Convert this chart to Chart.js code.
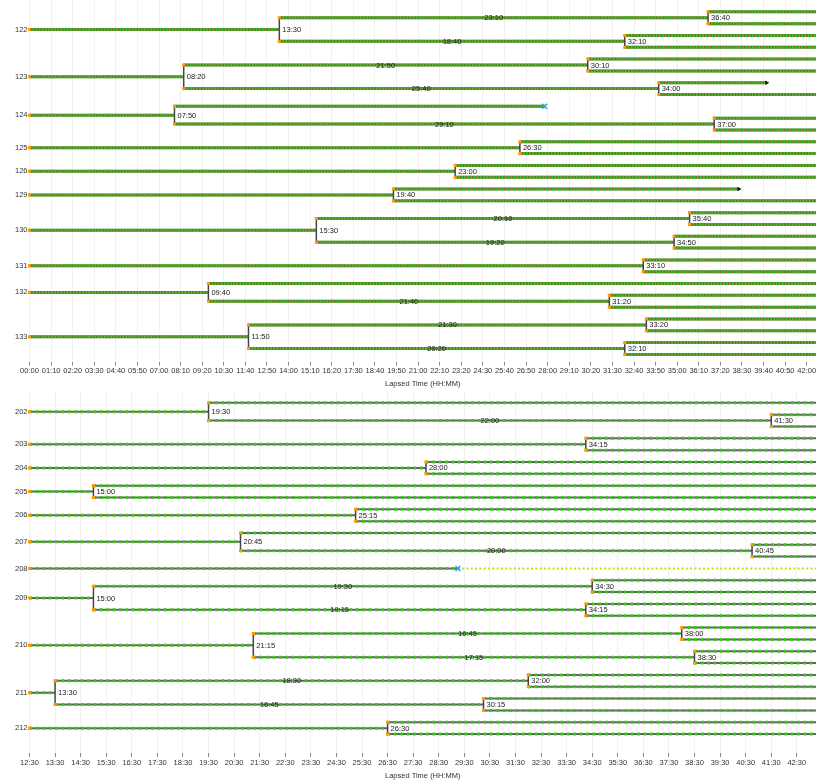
<!DOCTYPE html>
<html><head><meta charset="utf-8">
<script src="https://cdn.jsdelivr.net/npm/chart.js@4.4.1/dist/chart.umd.min.js"></script>
<style>
html,body{margin:0;padding:0;background:#fff;}
#wrap{position:relative;width:833px;height:783px;overflow:hidden;background:#fff;}
canvas{position:absolute;left:0;}
</style></head><body>
<div id="wrap">
<canvas id="topChart" width="833" height="391" style="top:0"></canvas>
<canvas id="botChart" width="833" height="392" style="top:391px"></canvas>
</div>
<script>
// ================= DATA =================
// Tree node: ['HH:MM' division time, upperChild, lowerChild]
// Leaf: 'end' (tracked to end), 'die HH:MM' (cell death), 'lost HH:MM' (tracking ends, arrow),
//       'dieTrail HH:MM' (death, dotted trace continues)
const TOP_LINEAGES = ['122','123','124','125','126','129','130','131','132','133'];
const TOP_TREES = [
  ['13:30', ['36:40','end','end'], ['32:10','end','end']],
  ['08:20', ['30:10','end','end'], ['34:00','lost 39:50','end']],
  ['07:50', 'die 27:50', ['37:00','end','end']],
  ['26:30', 'end', 'end'],
  ['23:00', 'end', 'end'],
  ['19:40', 'lost 38:20', 'end'],
  ['15:30', ['35:40','end','end'], ['34:50','end','end']],
  ['33:10', 'end', 'end'],
  ['09:40', 'end', ['31:20','end','end']],
  ['11:50', ['33:20','end','end'], ['32:10','end','end']]
];
const TOP_RANGE = ['00:00', '42:30'];
const TOP_TICKS = ['00:00','01:10','02:20','03:30','04:40','05:50','07:00','08:10','09:20','10:30',
  '11:40','12:50','14:00','15:10','16:20','17:30','18:40','19:50','21:00','22:10','23:20','24:30',
  '25:40','26:50','28:00','29:10','30:20','31:30','32:40','33:50','35:00','36:10','37:20','38:30',
  '39:40','40:50','42:00'];

const BOTTOM_LINEAGES = ['202','203','204','205','206','207','208','209','210','211','212'];
const BOTTOM_TREES = [
  ['19:30', 'end', ['41:30','end','end']],
  ['34:15', 'end', 'end'],
  ['28:00', 'end', 'end'],
  ['15:00', 'end', 'end'],
  ['25:15', 'end', 'end'],
  ['20:45', 'end', ['40:45','end','end']],
  'dieTrail 29:15',
  ['15:00', ['34:30','end','end'], ['34:15','end','end']],
  ['21:15', ['38:00','end','end'], ['38:30','end','end']],
  ['13:30', ['32:00','end','end'], ['30:15','end','end']],
  ['26:30', 'end', 'end']
];
const BOTTOM_RANGE = ['12:30', '43:15'];
const BOTTOM_TICKS = ['12:30','13:30','14:30','15:30','16:30','17:30','18:30','19:30','20:30','21:30',
  '22:30','23:30','24:30','25:30','26:30','27:30','28:30','29:30','30:30','31:30','32:30','33:30',
  '34:30','35:30','36:30','37:30','38:30','39:30','40:30','41:30','42:30'];

const AXIS_TITLE = 'Lapsed Time (HH:MM)';

// ================= HELPERS =================
const FONT_FAMILY = "'Liberation Sans',Arial,sans-serif";
const FONT_SIZE = 7.5;
function toMin(s){ const p = s.split(':').map(Number); return p[0]*60 + p[1]; }
function fmt(v){ const h = Math.floor(v/60), m = Math.round(v - h*60);
  return String(h).padStart(2,'0') + ':' + String(m).padStart(2,'0'); }

function layout(lineages, trees, range){
  const start = toMin(range[0]), end = toMin(range[1]);
  let row = 0;
  const out = {segs:[], verts:[], starts:[], deaths:[], arrows:[], trails:[], labels:[], roots:[]};
  function place(node, t0, isRoot){
    if (typeof node === 'string'){
      const y = row++;
      let t1 = end;
      const parts = node.split(' ');
      if (parts[0] === 'die'){ t1 = toMin(parts[1]); out.deaths.push({x:t1, y}); }
      else if (parts[0] === 'lost'){ t1 = toMin(parts[1]); out.arrows.push({x:t1, y}); }
      else if (parts[0] === 'dieTrail'){ t1 = toMin(parts[1]); out.deaths.push({x:t1, y}); out.trails.push([t1, end, y]); }
      out.segs.push([t0, t1, y]);
      out.starts.push({x:t0, y});
      return y;
    }
    const td = toMin(node[0]);
    const ya = place(node[1], td, false);
    const yb = place(node[2], td, false);
    const y = (ya + yb) / 2;
    out.segs.push([t0, td, y]);
    out.starts.push({x:t0, y});
    out.verts.push([td, ya, yb]);
    out.labels.push({x:td, y, text:node[0], align:'left'});
    if (!isRoot) out.labels.push({x:(t0+td)/2, y, text:fmt(td - t0), align:'center'});
    return y;
  }
  lineages.forEach((name, i) => { const y = place(trees[i], start, true); out.roots.push({y, name}); });
  out.start = start; out.end = end;
  return out;
}

function hLines(segs){
  const d = [];
  segs.forEach(s => { d.push({x:s[0], y:s[2]}, {x:s[1], y:s[2]}, {x:s[1], y:null}); });
  return d;
}
function vLines(verts){
  const d = [];
  verts.forEach(v => { d.push({x:v[0], y:v[1]}, {x:v[0], y:v[2]}, {x:v[0], y:null}); });
  return d;
}

function makeChart(canvasId, lineages, trees, range, ticks, style){
  const L = layout(lineages, trees, range);
  const tickVals = ticks.map(toMin);
  const lineDs = (data, color, width, dash, order) => ({
    type:'scatter', data, showLine:true, spanGaps:false, borderColor:color, borderWidth:width,
    borderDash:dash || [], borderCapStyle:'butt', pointRadius:0, pointHoverRadius:0, order, clip:8
  });
  const datasets = [
    {data:L.starts, showLine:false, pointStyle:'rect', pointRadius:2.2, backgroundColor:'#ff9a00', borderColor:'#ff9a00', borderWidth:0, order:0, clip:8},
    {data:L.deaths, showLine:false, pointStyle:'crossRot', pointRadius:3.5, borderColor:'#2fa8e8', borderWidth:1.6, order:0, clip:8},
    {data:L.arrows, showLine:false, pointStyle:'triangle', rotation:90, pointRadius:2.6, backgroundColor:'#111', borderColor:'#111', borderWidth:0, order:0, clip:8},
    lineDs(vLines(L.verts), '#454545', 1.5, null, 2),
    lineDs(hLines(L.segs), style.green, style.greenW, style.dash, 3),
    lineDs(hLines(L.segs), style.base, style.baseW, null, 4),
    lineDs(hLines(L.trails), '#d6d600', 2, [2, 2.3], 3),
  ];
  const labelPlugin = {
    id:'cellLabels',
    afterDatasetsDraw(chart){
      const {ctx, scales} = chart;
      ctx.save();
      ctx.font = FONT_SIZE + 'px ' + FONT_FAMILY;
      ctx.fillStyle = '#222';
      ctx.textBaseline = 'middle';
      L.labels.forEach(l => {
        ctx.textAlign = l.align;
        const px = scales.x.getPixelForValue(l.x) + (l.align === 'left' ? 3 : 0);
        ctx.fillText(l.text, px, scales.y.getPixelForValue(l.y) + 0.5);
      });
      ctx.restore();
    }
  };
  return new Chart(document.getElementById(canvasId), {
    type:'scatter',
    data:{datasets},
    plugins:[labelPlugin],
    options:{
      responsive:false, animation:false, devicePixelRatio:1, events:[],
      layout:{autoPadding:false, padding:{top:0, right:17, left:0, bottom:0}},
      plugins:{legend:{display:false}, tooltip:{enabled:false}},
      scales:{
        x:{
          type:'linear', min:L.start, max:L.end,
          afterBuildTicks: s => { s.ticks = tickVals.map(v => ({value:v})); },
          afterFit: s => { s.height = style.xAxisH; s.paddingLeft = 0; s.paddingRight = 0; },
          ticks:{callback:(v) => fmt(v), autoSkip:false, maxRotation:0, padding:1,
                 color:'#333', font:{family:FONT_FAMILY, size:FONT_SIZE}},
          grid:{color:'#f1f1f1', tickColor:'#888', tickLength:4, drawOnChartArea:true},
          border:{display:false},
          title:{display:true, text:AXIS_TITLE, color:'#333', padding:{top:0,bottom:3},
                 font:{family:FONT_FAMILY, size:FONT_SIZE}}
        },
        y:{
          type:'linear', reverse:true, min:-1, max:29.6,
          afterBuildTicks: s => { s.ticks = L.roots.map(r => ({value:r.y})); },
          afterFit: s => { s.width = 29.5; s.paddingTop = 0; s.paddingBottom = 0; },
          ticks:{callback:(v, i) => L.roots[i] ? L.roots[i].name : '', autoSkip:false, padding:2,
                 color:'#333', font:{family:FONT_FAMILY, size:FONT_SIZE}},
          grid:{display:false, drawTicks:false},
          border:{display:false}
        }
      }
    }
  });
}

makeChart('topChart', TOP_LINEAGES, TOP_TREES, TOP_RANGE, TOP_TICKS,
  {base:'#6c6a36', baseW:3, green:'#3cc81c', greenW:3, dash:[1.6,1.5], xAxisH:29.5});
makeChart('botChart', BOTTOM_LINEAGES, BOTTOM_TREES, BOTTOM_RANGE, BOTTOM_TICKS,
  {base:'#636363', baseW:2, green:'#33cc11', greenW:3, dash:[2.6,3.8], xAxisH:30});
</script>
</body></html>
